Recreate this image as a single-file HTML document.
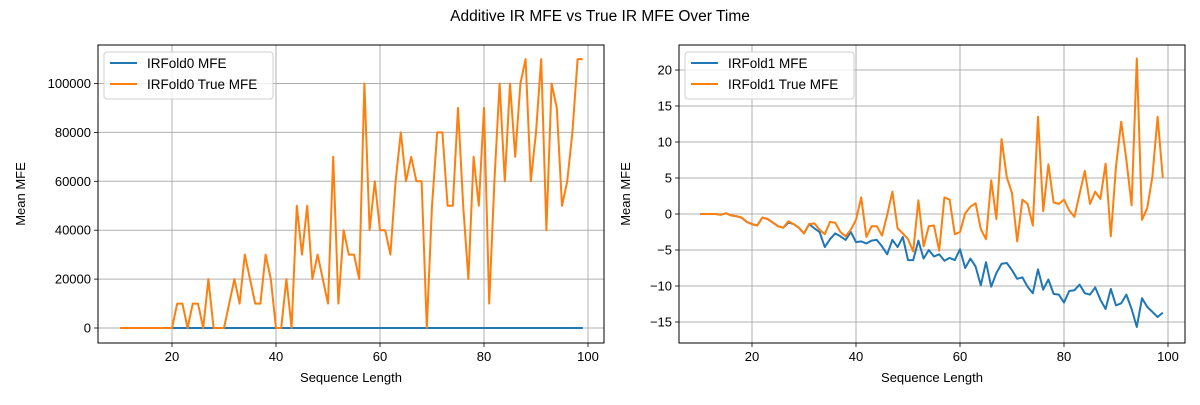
<!DOCTYPE html>
<html><head><meta charset="utf-8"><style>
body{margin:0;background:#fff;width:1200px;height:400px;overflow:hidden}
svg text{font-family:"Liberation Sans","DejaVu Sans",sans-serif;fill:#000}
</style></head><body>
<svg id="s" width="1200" height="400" xmlns="http://www.w3.org/2000/svg">
<text x="600" y="21" font-size="15.5" text-anchor="middle">Additive IR MFE vs True IR MFE Over Time</text>
</svg>
<script>
const xs = [];
for (let i = 10; i <= 99; i++) xs.push(i);
const leftBlue = xs.map(() => 0);
const leftTrue = [0,0,0,0,0,0,0,0,0,0,0,10000,10000,0,10000,10000,0,20000,0,0,0,10000,20000,10000,30000,20000,10000,10000,30000,20000,0,0,20000,0,50000,30000,50000,20000,30000,20000,10000,70000,10000,40000,30000,30000,20000,100000,40000,60000,40000,40000,30000,60000,80000,60000,70000,60000,60000,0,50000,80000,80000,50000,50000,90000,50000,20000,70000,50000,90000,10000,60000,100000,60000,100000,70000,100000,110000,60000,80000,110000,40000,100000,90000,50000,60000,80000,110000,110000];
const rightTrue = [0,0,0,0,-0.1,0.1,-0.2,-0.3,-0.5,-1.1,-1.4,-1.6,-0.5,-0.7,-1.2,-1.7,-1.9,-1.0,-1.4,-1.9,-2.7,-1.4,-1.3,-2.2,-2.8,-1.1,-1.2,-2.5,-3.1,-2.2,-0.8,2.3,-3.2,-1.7,-1.7,-3.0,-0.1,3.1,-2.0,-2.7,-3.5,-5.2,1.9,-4.5,-1.7,-1.6,-5.1,2.3,2.0,-2.8,-2.5,0.1,1.0,1.5,-2.1,-3.5,4.7,-0.7,10.4,5.1,2.9,-3.8,2.0,1.4,-1.6,13.5,0.4,6.9,1.6,1.4,2.0,0.5,-0.4,2.8,6.0,1.4,3.1,2.1,7.0,-3.1,6.6,12.8,7.5,1.2,21.6,-0.8,0.8,5.2,13.5,5.0];
const rightBlue = [0,0,0,0,-0.1,0.1,-0.2,-0.3,-0.5,-1.1,-1.4,-1.6,-0.5,-0.7,-1.2,-1.7,-1.9,-1.2,-1.4,-1.9,-2.7,-1.4,-2.0,-2.5,-4.6,-3.5,-2.7,-3.1,-3.6,-2.5,-3.9,-3.8,-4.1,-3.7,-3.6,-4.5,-5.6,-3.6,-4.6,-3.2,-6.4,-6.4,-3.7,-6.2,-5.0,-5.9,-5.6,-6.5,-6.1,-6.4,-4.9,-7.5,-6.2,-7.3,-9.9,-6.7,-10.1,-8.2,-6.9,-6.8,-7.8,-9.0,-8.8,-10.1,-11.0,-7.7,-10.5,-9.1,-11.1,-11.2,-12.3,-10.7,-10.6,-9.8,-11.0,-11.2,-10.2,-11.9,-13.2,-10.4,-12.7,-12.4,-11.2,-13.2,-15.7,-11.7,-12.9,-13.6,-14.3,-13.7];
const xTicks = [20,40,60,80,100];
const leftYTicks = [0,20000,40000,60000,80000,100000];
const rightYTicks = [-15,-10,-5,0,5,10,15,20];

const NS = "http://www.w3.org/2000/svg";
const svg = document.getElementById('s');
function el(tag, attrs, parent){const e=document.createElementNS(NS,tag);for(const k in attrs)e.setAttribute(k,attrs[k]);(parent||svg).appendChild(e);return e;}

function panel(p){
  const g = el('g',{});
  
  
  const X = v => p.x0 + (v-20)*5.2;
  const Y = v => p.yZero - v*p.yScale;
  xTicks.forEach(t=>{
    const l=el('line',{x1:X(t),x2:X(t),y1:p.top,y2:p.bottom,stroke:'#b0b0b0','stroke-width':1},g);
    
    
    const tk=el('line',{x1:X(t),x2:X(t),y1:p.bottom,y2:p.bottom+4,stroke:'#000','stroke-width':0.8},g);
    
    
    const tx=el('text',{x:X(t),y:p.bottom+18,'font-size':13,'text-anchor':'middle'},g);
    tx.textContent=t;
    
    
  });
  p.yTicks.forEach(t=>{
    const l=el('line',{x1:p.left,x2:p.right,y1:Y(t),y2:Y(t),stroke:'#b0b0b0','stroke-width':1},g);
    
    
    const tk=el('line',{x1:p.left-4,x2:p.left,y1:Y(t),y2:Y(t),stroke:'#000','stroke-width':0.8},g);
    
    
    const tx=el('text',{x:p.left-7,y:Y(t)+4.5,'font-size':13,'text-anchor':'end'},g);
    tx.textContent=t<0?'\u2212'+(-t):t;
    
    
  });
  const mk=(vals,color,nm)=>{
    const d=vals.map((v,i)=>(i?'L':'M')+X(xs[i]).toFixed(1)+','+Y(v).toFixed(1)).join(' ');
    const path=el('path',{d:d,fill:'none',stroke:color,'stroke-width':2,'stroke-linejoin':'round'},g);
    
    
  };
  mk(p.blue,'#1f77b4',p.blueName);
  mk(p.orange,'#ff7f0e',p.orangeName);
  const fr=el('rect',{x:p.left,y:p.top,width:p.right-p.left,height:p.bottom-p.top,fill:'none',stroke:'#000','stroke-width':1},g);
  
  
  const xl=el('text',{x:(p.left+p.right)/2,y:382,'font-size':13,'text-anchor':'middle'},g);
  xl.textContent='Sequence Length';
  
  
  const yl=el('text',{x:0,y:0,'font-size':13,'text-anchor':'middle',transform:`translate(${p.yLabelX},${(p.top+p.bottom)/2}) rotate(-90)`},g);
  yl.textContent='Mean MFE';
  
  
  const lg=el('g',{},g);
  
  
  el('rect',{x:p.left+6,y:52,width:169,height:47,rx:3,fill:'#fff','fill-opacity':0.8,stroke:'#d0d0d0'},lg);
  [[p.blueLabel,'#1f77b4',63],[p.orangeLabel,'#ff7f0e',84]].forEach(([lab,c,yy])=>{
    const e=el('g',{},lg);
    
    
    el('line',{x1:p.left+12,x2:p.left+39,y1:yy,y2:yy,stroke:c,'stroke-width':2},e);
    const t=el('text',{x:p.left+49,y:yy+5,'font-size':13.5},e);
    t.textContent=lab;
  });
}
panel({name:'left-panel',left:98,right:604,top:45,bottom:343,x0:172,yZero:328,yScale:0.002445,yTicks:leftYTicks,blue:leftBlue,orange:leftTrue,blueName:'irfold0-mfe-line',orangeName:'irfold0-true-mfe-line',blueLabel:'IRFold0 MFE',orangeLabel:'IRFold0 True MFE',yLabelX:25});
panel({name:'right-panel',left:679,right:1185,top:45,bottom:343,x0:752,yZero:214,yScale:7.2,yTicks:rightYTicks,blue:rightBlue,orange:rightTrue,blueName:'irfold1-mfe-line',orangeName:'irfold1-true-mfe-line',blueLabel:'IRFold1 MFE',orangeLabel:'IRFold1 True MFE',yLabelX:630});
</script>
</body></html>
